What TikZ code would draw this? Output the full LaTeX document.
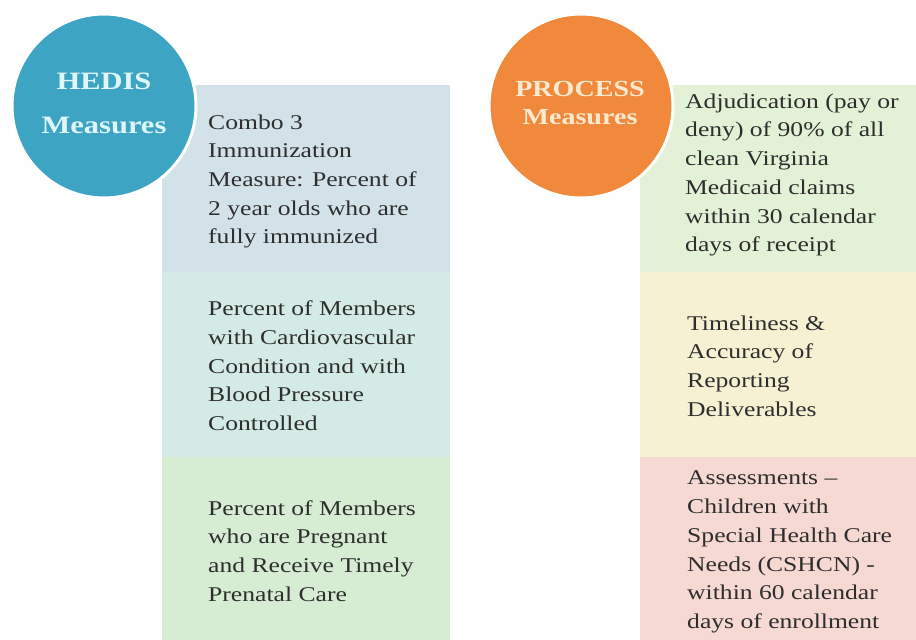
\documentclass[tikz,border=0pt]{standalone}
\usepackage{fontspec}
\setmainfont[FakeStretch=1.22]{Liberation Serif}
\begin{document}
\begin{tikzpicture}[x=1pt,y=-1pt,
  itemtext/.style={anchor=west,align=left,inner sep=0pt,text=black!82,
    font=\fontsize{21}{28.7}\selectfont},
  badge/.style={circle,draw=white,line width=3pt,minimum size=184pt,inner sep=0pt},
  badgetext/.style={align=center,font=\bfseries\fontsize{25}{44}\selectfont}]
\useasboundingbox (0,0) rectangle (916,640);
\fill[white] (0,0) rectangle (916,640);
% left column
\fill[fill={rgb,255:red,211;green,226;blue,233}] (162,85) rectangle (450,272);
\fill[fill={rgb,255:red,212;green,235;blue,229}] (162,272) rectangle (450,457);
\fill[fill={rgb,255:red,214;green,237;blue,212}] (162,457) rectangle (450,640);
% right column
\fill[fill={rgb,255:red,227;green,241;blue,214}] (640,85) rectangle (916,272);
\fill[fill={rgb,255:red,246;green,241;blue,210}] (640,272) rectangle (916,457);
\fill[fill={rgb,255:red,245;green,217;blue,210}] (640,457) rectangle (916,640);
% texts left
\node[itemtext] (l1) at (208,181.5) {Combo 3\\Immunization\\Measure: Percent of\\2 year olds who are\\fully immunized};
\node[itemtext] (l2) at (208,366) {Percent of Members\\with Cardiovascular\\Condition and with\\Blood Pressure\\Controlled};
\node[itemtext] (l3) at (208,551) {Percent of Members\\who are Pregnant\\and Receive Timely\\Prenatal Care};
% texts right
\node[itemtext] (r1) at (685,175) {Adjudication (pay or\\deny) of 90\% of all\\clean Virginia\\Medicaid claims\\within 30 calendar\\days of receipt};
\node[itemtext] (r2) at (687,366) {Timeliness \&\\Accuracy of\\Reporting\\Deliverables};
\node[itemtext] (r3) at (687,552) {Assessments --\\Children with\\Special Health Care\\Needs (CSHCN) -\\within 60 calendar\\days of enrollment};
% badges
\node[badge,fill={rgb,255:red,61;green,164;blue,196}] (hedis) at (104,106) {};
\node[badgetext,text={rgb,255:red,222;green,246;blue,248}] (hedist) at (104,103) {HEDIS\\Measures};
\node[badge,fill={rgb,255:red,240;green,137;blue,60}] (proc) at (581,106) {};
\node[badgetext,text={rgb,255:red,251;green,233;blue,208},font=\bfseries\fontsize{23}{28}\selectfont] (proct) at (580,103) {PROCESS\\Measures};
\end{tikzpicture}
\end{document}
